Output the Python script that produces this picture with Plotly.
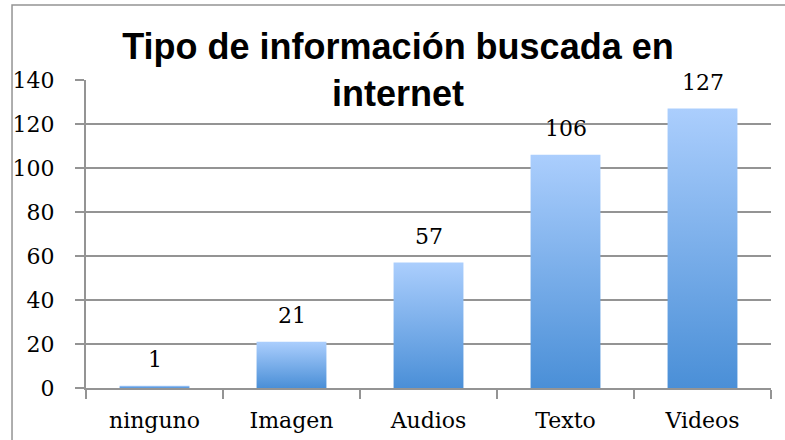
import plotly.graph_objects as go

categorias = ["ninguno", "Imagen", "Audios", "Texto", "Videos"]
valores = [1, 21, 57, 106, 127]
ticks_y = [0, 20, 40, 60, 80, 100, 120, 140]

gris = '#949494'
fuente_ejes = dict(family='DejaVu Serif', size=22, color='black')
ancho = 0.51

fig = go.Figure()

# barras con degradado vertical (una traza por barra)
for i, (cat, v) in enumerate(zip(categorias, valores)):
    fig.add_trace(go.Scatter(
        x=[i - ancho / 2, i + ancho / 2, i + ancho / 2, i - ancho / 2],
        y=[0, 0, v, v],
        fill='toself',
        mode='lines',
        line=dict(width=0, color='rgba(0,0,0,0)'),
        fillgradient=dict(type='vertical', colorscale=[[0, '#4a8fd7'], [1, '#abcefd']]),
        name=cat,
        hoverinfo='skip',
        showlegend=False,
    ))

for i, v in enumerate(valores):
    fig.add_annotation(x=i, y=v, text=str(v), showarrow=False,
                       yanchor='bottom', yshift=12, font=fuente_ejes)

fig.update_xaxes(
    range=[-0.5, len(categorias) - 0.5],
    tickvals=list(range(len(categorias))),
    ticktext=categorias,
    ticks='',
    showgrid=False,
    zeroline=False,
    showline=True, linecolor=gris, linewidth=2,
    minor=dict(tick0=-0.5, dtick=1, ticks='outside', ticklen=9,
               tickcolor=gris, tickwidth=2, showgrid=False),
    tickfont=fuente_ejes,
    ticklabelstandoff=12,
    automargin=False,
    fixedrange=True,
)
fig.update_yaxes(
    range=[0, 140],
    tickvals=ticks_y,
    ticks='outside', ticklen=9, tickcolor=gris, tickwidth=2,
    showgrid=True, gridcolor=gris, gridwidth=2,
    zeroline=False,
    showline=True, linecolor=gris, linewidth=2,
    tickfont=fuente_ejes,
    ticklabelstandoff=16,
    automargin=False,
    fixedrange=True,
)

# marco exterior del gráfico
fig.add_shape(type='rect', xref='paper', yref='paper',
              x0=-0.108, x1=1.2, y0=-0.3, y1=1.2435,
              line=dict(color=gris, width=1.5), layer='below')

fig.update_layout(
    title=dict(text='<b>Tipo de información buscada en<br>internet</b>',
               font=dict(family='Liberation Sans', size=36, color='black'),
               x=0.507, xanchor='center', xref='container',
               y=1 - 59 / 440, yanchor='top', yref='container',
               automargin=False),
    width=785, height=440,
    margin=dict(l=86, r=14, t=80, b=52),
    plot_bgcolor='white', paper_bgcolor='white',
    hovermode=False,
)

fig.write_html("out.html", config={'displayModeBar': False},
               post_script="document.body.style.margin = '0';")
